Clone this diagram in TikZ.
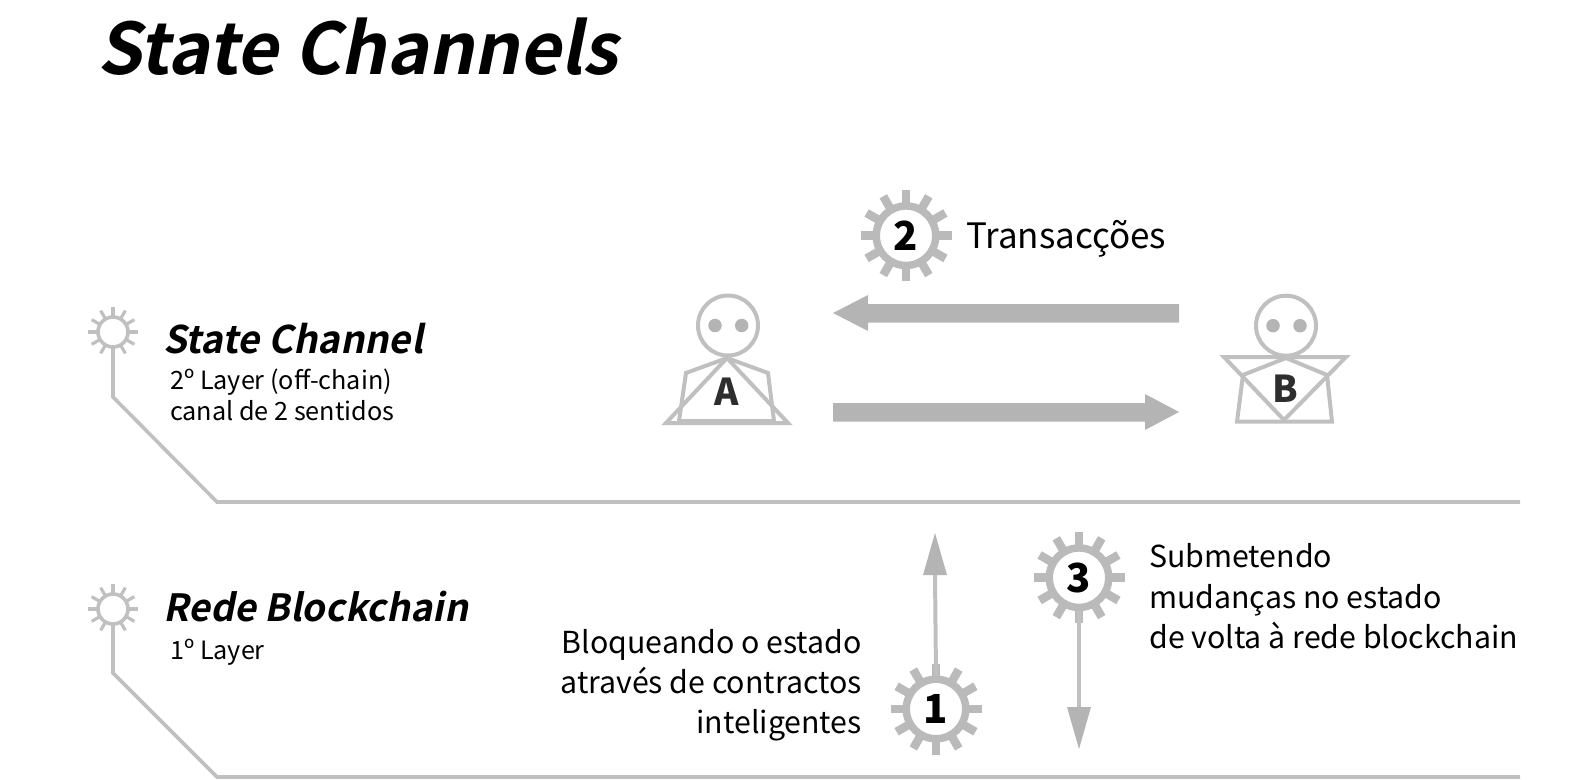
\documentclass[tikz,border=0pt]{standalone}
\usepackage{fontspec}
\setmainfont{Noto Sans CJK JP}
\newfontfamily\titlefont{Noto Sans CJK JP Bold}[FakeSlant=0.2]
\definecolor{gr}{HTML}{BABABA}
\definecolor{ar}{HTML}{B4B4B4}
\definecolor{lt}{HTML}{C0C0C0}
\definecolor{ink}{HTML}{2E2E2E}
\tikzset{
  x=1pt,y=-1pt,
  biggear/.style={circle,draw=gr,line width=7.5pt,fill=white,minimum size=59.5pt,inner sep=0pt,font=\fontsize{40}{40}\selectfont\bfseries,text=black},
  smallgear/.style={circle,draw=lt,line width=3.6pt,fill=white,minimum size=30pt,inner sep=0pt},
  tooth/.style={draw=gr,line width=8.5pt},
  stooth/.style={draw=lt,line width=3.2pt},
  rail/.style={draw=lt,line width=3.6pt,line join=miter},
  stem/.style={draw=lt,line width=4pt},
  head/.style={fill=ar,draw=none},
  body/.style={draw=lt,line width=4pt,line join=miter,miter limit=3},
  eye/.style={circle,fill=ar,draw=none,minimum size=13.5pt,inner sep=0pt},
  skull/.style={circle,draw=lt,line width=4pt,minimum size=60pt,inner sep=0pt},
  letter/.style={font=\fontsize{37}{37}\selectfont\bfseries,text=ink},
  maintitle/.style={anchor=base west,inner sep=0pt,font=\fontsize{71}{71}\titlefont},
  layername/.style={anchor=base west,inner sep=0pt,font=\fontsize{#1}{#1}\titlefont},
  sub/.style={anchor=base west,inner sep=0pt,font=\fontsize{25.2}{25.2}\selectfont},
  lab/.style={anchor=base west,inner sep=0pt,font=\fontsize{30.3}{30.3}\selectfont},
  labr/.style={anchor=base east,inner sep=0pt,font=\fontsize{30.3}{30.3}\selectfont},
}
\newcommand{\teeth}[1]{\foreach \a in {0,30,...,330}{\draw[tooth] (#1)++(\a:26) -- ++(\a:19.5);}}
\newcommand{\steeth}[1]{\foreach \a in {0,30,...,330}{\draw[stooth] (#1)++(\a:14) -- ++(\a:10.7);}}
\begin{document}
\begin{tikzpicture}
\useasboundingbox (0,0) rectangle (1582,779);
% title
\node[maintitle] (title) at (97,74.5) {State Channels};
% rails
\coordinate (k1) at (113,397); \coordinate (b1) at (217,502); \coordinate (e1) at (1520,502);
\coordinate (k2) at (113,673); \coordinate (b2) at (217,777); \coordinate (e2) at (1520,777);
\coordinate (sg1c) at (113,332); \coordinate (sg2c) at (113,609);
\steeth{sg1c} \steeth{sg2c}
\node[smallgear] (sg1) at (sg1c) {};
\node[smallgear] (sg2) at (sg2c) {};
\draw[rail] (sg1.south) -- (k1) -- (b1) -- (e1);
\draw[rail] (sg2.south) -- (k2) -- (b2) -- (e2);
\node[layername=38] (n1) at (163,353) {State Channel};
\node[sub] (s1a) at (170,389) {2º Layer (off-chain)};
\node[sub] (s1b) at (170,420.5) {canal de 2 sentidos};
\node[layername=37.5] (n2) at (163,621) {Rede Blockchain};
\node[sub] (s2a) at (170,659.5) {1º Layer};
% gears
\coordinate (g2c) at (906,235.7); \coordinate (g1c) at (936,709); \coordinate (g3c) at (1079,577.7);
\teeth{g2c} \teeth{g1c} \teeth{g3c}
\node[biggear] (g2) at (g2c) {2};
\node[biggear] (g1) at (g1c) {1};
\node[biggear] (g3) at (g3c) {3};
\node[anchor=base west,inner sep=0pt,font=\fontsize{35}{35}\selectfont] (t2) at (966,248) {Transacções};
% vertical arrows
\coordinate (a1b) at (935,575); \coordinate (a3b) at (1079,707);
\draw[stem] (g1.north) -- (a1b);
\draw[stem] (g3.south) -- (a3b);
\fill[head] (935,533) -- (947,575) -- (923,575) -- cycle;
\fill[head] (1079,749) -- (1067,707) -- (1091,707) -- cycle;
\node[lab] (t3a) at (1149,567) {Submetendo};
\node[lab] (t3b) at (1149,608) {mudanças no estado};
\node[lab] (t3c) at (1149,648) {de volta à rede blockchain};
\node[labr] (t1a) at (862,653) {Bloqueando o estado};
\node[labr] (t1b) at (862,693) {através de contractos};
\node[labr] (t1c) at (862,733) {inteligentes};
% horizontal arrows
\fill[head] (833,313) -- (868,295) -- (868,304) -- (1179,304) -- (1179,322.5) -- (868,322.5) -- (868,331) -- cycle;
\fill[head] (1179,412) -- (1145,394) -- (1145,403) -- (833,403) -- (833,421.5) -- (1145,421.5) -- (1145,430) -- cycle;
% person A
\node[skull] (ha) at (728,325.5) {};
\node[eye] (ea1) at (715,325.5) {};
\node[eye] (ea2) at (741.7,325.5) {};
\coordinate (na) at (727,358);
\draw[body] (na) -- (686,373) -- (679,421) -- (774,421) -- (768,373) -- cycle;
\draw[body] (na) -- (666,423) -- (788,423) -- cycle;
\node[letter] (la) at (727,392) {A};
% person B
\node[skull] (hb) at (1286,325.7) {};
\node[eye] (eb1) at (1273,325.7) {};
\node[eye] (eb2) at (1300,325.7) {};
\coordinate (nb) at (1286,358);
\draw[body] (nb) -- (1243,375) -- (1237,421.7) -- (1332,421.7) -- (1327,375) -- cycle;
\draw[body] (1284,420) -- (1224,357) -- (1346,357) -- cycle;
\node[letter] (lb) at (1285,389) {B};
\end{tikzpicture}
\end{document}
